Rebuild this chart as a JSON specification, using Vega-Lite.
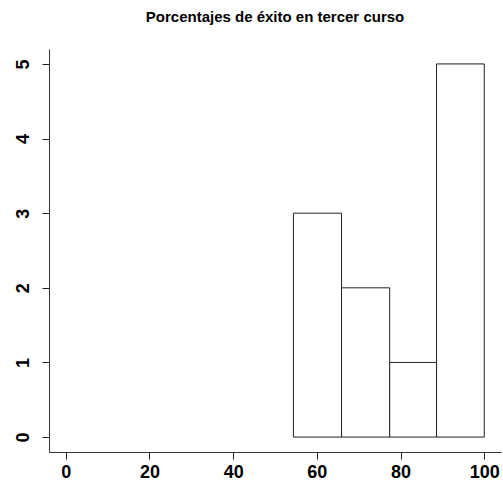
{
  "$schema": "https://vega.github.io/schema/vega-lite/v6.json",
  "width": 452,
  "height": 403,
  "autosize": "none",
  "padding": {"left": 49, "top": 49, "right": 2, "bottom": 30},
  "background": "white",
  "title": {
    "text": "Porcentajes de éxito en tercer curso",
    "font": "Liberation Sans",
    "fontSize": 15,
    "fontWeight": "bold",
    "color": "black",
    "anchor": "middle",
    "offset": 24
  },
  "config": {
    "view": {"stroke": null},
    "axis": {
      "grid": false,
      "domain": true,
      "domainColor": "#333333",
      "domainWidth": 1,
      "tickColor": "#222222",
      "tickSize": 7,
      "tickWidth": 1,
      "labelFont": "Liberation Sans",
      "labelFontSize": 18,
      "labelFontWeight": "bold",
      "labelColor": "black",
      "title": null
    }
  },
  "layer": [
    {
      "data": {
        "values": [
          {"start": 54.4, "end": 65.9, "count": 3},
          {"start": 65.9, "end": 77.4, "count": 2},
          {"start": 77.4, "end": 88.6, "count": 1},
          {"start": 88.6, "end": 100, "count": 5}
        ]
      },
      "mark": {"type": "rect", "fill": "white", "stroke": "#222222", "strokeWidth": 1},
      "encoding": {
        "x": {"field": "start", "type": "quantitative", "scale": {"domain": [-4, 104], "nice": false, "zero": false}, "axis": {"values": [0, 20, 40, 60, 80, 100], "format": "d", "labelPadding": 4, "labelFlush": false}},
        "x2": {"field": "end"},
        "y": {"field": "count", "type": "quantitative", "scale": {"domain": [-0.2, 5.2], "nice": false, "zero": false}, "axis": {"values": [0, 1, 2, 3, 4, 5], "format": "d", "labelAngle": -90, "labelAlign": "center", "labelBaseline": "bottom", "labelPadding": 10, "labelFlush": false}},
        "y2": {"datum": 0}
      }
    }
  ]
}
